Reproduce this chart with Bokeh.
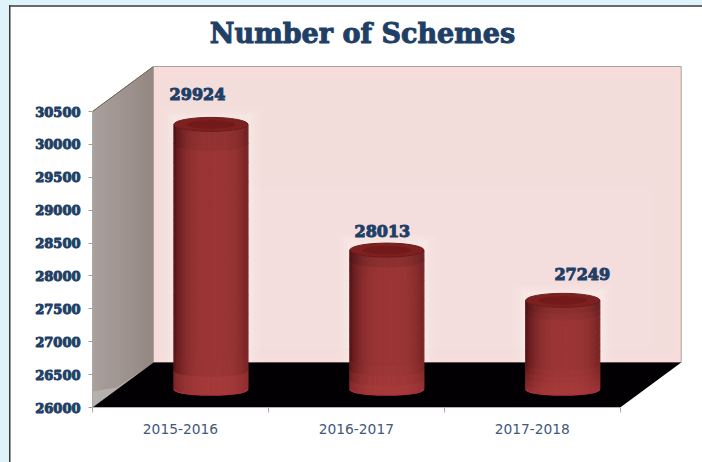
import numpy as np
from bokeh.embed import file_html
from bokeh.resources import INLINE
from bokeh.plotting import figure
from bokeh.models import (Range1d, FixedTicker, Label)
from bokeh.core.properties import value

# ---- data
categories = ["2015-2016", "2016-2017", "2017-2018"]
schemes = [29924, 28013, 27249]
y_ticks = [26000, 26500, 27000, 27500, 28000, 28500, 29000, 29500, 30000, 30500]
chart_title = "Number of Schemes"

# ---- styling and layout
W, H = 702, 462
LEFT, BOTTOM = 92, 55
FRAME_H = H - BOTTOM
PX_X = 175.9                # pixels per category
PX_Y = 296 / 4500           # pixels per unit
NAVY = "#1f3f66"
label_dx = [17, 26, 50]     # label offset from the bar's front foot position, px
label_dy = [-55, -44, -51]

px = lambda n: n / PX_X
py = lambda n: n / PX_Y
Y0 = 26000
XN = len(categories)
DX, DY = px(61), py(45)

p = figure(width=W, height=H, output_backend="svg", toolbar_location=None,
           x_range=Range1d(0, (W - LEFT) / PX_X),
           y_range=Range1d(Y0, Y0 + (H - BOTTOM) / PX_Y),
           min_border_left=LEFT, min_border_right=0, min_border_top=0,
           min_border_bottom=BOTTOM, outline_line_color=None,
           background_fill_color=None, border_fill_color=None)
p.styles = {
    "position": "absolute", "left": "0px", "top": "0px",
    "background": ("linear-gradient(#3a3a3a,#3a3a3a) 9px 5px / 1.5px 100% no-repeat, "
                   "linear-gradient(#6a6a6a,#6a6a6a) 9px 5px / 100% 2px no-repeat, "
                   "linear-gradient(#fff,#fff) 9px 5px / 100% 100% no-repeat, #dff3fb"),
}
p.grid.visible = False

# y axis
ya = p.yaxis[0]
ya.ticker = FixedTicker(ticks=y_ticks)
ya.bounds = (y_ticks[0], y_ticks[-1])
ya.axis_line_color = "#a8a8a8"
ya.major_tick_line_color = "#a0a0a0"
ya.major_tick_in = 0
ya.major_tick_out = 4
ya.minor_tick_line_color = None
ya.major_label_standoff = 8
ya.major_label_text_font = "DejaVu Serif"
ya.major_label_text_font_style = "bold"
ya.major_label_text_font_size = "13px"
ya.major_label_text_color = NAVY
ya.major_label_text_outline_color = NAVY

# x axis
xa = p.xaxis[0]
centres = [i + 0.5 for i in range(XN)]
xa.ticker = FixedTicker(ticks=centres, minor_ticks=list(range(XN + 1)))
xa.major_label_overrides = {c: n for c, n in zip(centres, categories)}
xa.bounds = (0, XN)
xa.axis_line_color = "#b4b4b4"
xa.major_tick_line_color = None
xa.minor_tick_line_color = "#a8a8a8"
xa.minor_tick_in = 0
xa.minor_tick_out = 5
xa.major_label_standoff = 10
xa.major_label_text_font = "DejaVu Sans"
xa.major_label_text_font_size = "13.8px"
xa.major_label_text_color = "#44597a"

yt = y_ticks[-1]

# left wall, shaded in strips
n = 20
xs, ys, cs = [], [], []
for i in range(n):
    a, b = i / n, (i + 1) / n
    xs.append([a * DX, b * DX, b * DX, a * DX])
    ys.append([Y0 + a * DY, Y0 + b * DY, yt + b * DY, yt + a * DY])
    c0, c1 = np.array([170, 160, 156]), np.array([148, 135, 130])
    c = c0 + (c1 - c0) * a
    cs.append("#%02x%02x%02x" % tuple(int(v) for v in c))
p.patches(xs, ys, fill_color=cs, line_color=cs, line_width=1)
p.patch([0, 0, 0.4 * DX, DX], [Y0, Y0 + py(16), Y0 + py(20), Y0 + DY],
        fill_color="#b8b6b2", fill_alpha=0.8, line_color=None)
p.line([0, DX], [yt, yt + DY], line_color="#6e6660", line_width=1)

# back wall
p.quad(left=DX, right=XN + DX, bottom=Y0 + DY, top=yt + DY,
       fill_color="#f8dcdc", line_color="#a8a29c", line_width=1)
p.quad(left=DX + px(6), right=XN + DX - px(6), bottom=Y0 + DY + py(6), top=yt + DY - py(10),
       fill_color="#f3dddb", line_color=None)
p.quad(left=DX + px(30), right=XN + DX - px(30), bottom=Y0 + DY + py(14), top=yt + DY - py(120),
       fill_color="#f4dedd", line_color=None)

# glow behind the bars
half = px(37)
for i, v in enumerate(schemes):
    cx = i + 0.5 + DX / 2
    for grow, alpha in ((14, 0.07), (10, 0.1), (6, 0.14), (3, 0.18)):
        p.quad(left=cx - half - px(grow), right=cx + half + px(grow), bottom=Y0 + DY,
               top=v + py(25 + 7 + grow * 0.7), fill_color="#fff6f2", fill_alpha=alpha, line_color=None)

# floor
p.patch([0, DX, XN + DX, XN], [Y0, Y0 + DY, Y0 + DY, Y0], fill_color="#020003", line_color=None)

# cylinders
top_lift, top_e, base_lift, base_e = py(25), py(7), py(18), py(5.5)
strips, rows = 30, 14
for i, v in enumerate(schemes):
    cx = i + 0.5 + DX / 2
    xs, ys, cs = [], [], []
    height_px = (v + top_lift - Y0 - base_lift) * PX_Y
    for s in range(strips):
        u0, u1 = -1 + 2 * s / strips, -1 + 2 * (s + 1) / strips
        um = (u0 + u1) / 2
        light = max(0.0, 1 - abs((um - 0.1) / 1.1) ** 3.2)
        for r in range(rows):
            t0, t1 = r / rows, (r + 1) / rows
            def yy(u, t):
                arc = np.sqrt(max(0.0, 1 - u * u))
                lo = Y0 + base_lift - base_e * arc
                hi = v + top_lift - top_e * arc
                return lo + (hi - lo) * t
            xs.append([cx + half * u0, cx + half * u1, cx + half * u1, cx + half * u0])
            ys.append([yy(u0, t0), yy(u1, t0), yy(u1, t1), yy(u0, t1)])
            tm = (t0 + t1) / 2
            below_top = (1 - tm) * height_px
            foot = max(0.0, 1 - tm * height_px / 30)
            edge = np.array([84, 20, 22]) + (np.array([140, 44, 44]) - np.array([84, 20, 22])) * foot
            mid = np.array([156, 54, 54]) + (np.array([168, 60, 60]) - np.array([156, 54, 54])) * foot
            c = edge + (mid - edge) * light
            c = c * (1 - 0.14 * max(0.0, 1 - below_top / 16))
            cs.append("#%02x%02x%02x" % tuple(int(x) for x in c))
    p.patches(xs, ys, fill_color=cs, line_color=cs, line_width=1.2)
    # foot rim
    us = np.linspace(-1, 1, 31)
    p.line(cx + half * us, Y0 + base_lift - base_e * np.sqrt(1 - us * us),
           line_color="#b02c40", line_width=1.2)
    # top face
    p.ellipse(x=[cx], y=[v + top_lift], width=2 * half, height=2 * top_e,
              fill_color="#7c2020", line_color="#6e1a1a", line_width=1)
    p.ellipse(x=[cx], y=[v + top_lift], width=1.3 * half, height=1.2 * top_e,
              fill_color="#701818", fill_alpha=0.8, line_color=None)

# value labels
p.text(x=centres, y=schemes, text=[str(v) for v in schemes],
       x_offset=label_dx, y_offset=label_dy,
       text_align="center", text_baseline="middle",
       text_font=value("DejaVu Serif"), text_font_style="bold",
       text_font_size="16px", text_color=NAVY, text_outline_color=NAVY)

# title; screen positions count from the plot frame's lower left corner
p.add_layout(Label(x=362 - LEFT, y=FRAME_H - 33, x_units="screen", y_units="screen", text=chart_title,
                   text_align="center", text_baseline="middle", text_font="DejaVu Serif",
                   text_font_style="bold", text_font_size="27px", text_color=NAVY,
                   text_outline_color=NAVY))

open("out.html", "w").write(file_html(p, INLINE))
